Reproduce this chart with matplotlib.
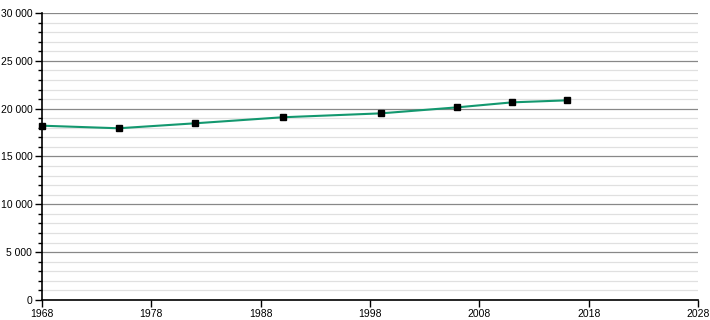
import matplotlib
matplotlib.use('Agg')
import matplotlib.pyplot as plt
from matplotlib.ticker import MultipleLocator, FuncFormatter

years = [1968, 1975, 1982, 1990, 1999, 2006, 2011, 2016]
population = [18220, 17950, 18470, 19100, 19510, 20140, 20660, 20870]
year_ticks = [1968, 1978, 1988, 1998, 2008, 2018, 2028]

plt.rcParams['font.family'] = ['Liberation Sans', 'DejaVu Sans']

fig = plt.figure(figsize=(7.1, 3.2), dpi=100)
ax = fig.add_axes([42/710, 20/320, 656/710, 287/320])

ax.set_xlim(1968, 2028)
ax.set_ylim(0, 30000)

ax.yaxis.set_major_locator(MultipleLocator(5000))
ax.yaxis.set_minor_locator(MultipleLocator(1000))
ax.set_xticks(year_ticks)
ax.set_xticklabels([str(y) for y in year_ticks])
ax.yaxis.set_major_formatter(FuncFormatter(lambda v, p: f'{int(v):,}'.replace(',', ' ')))

ax.grid(which='major', axis='y', color='#888888', lw=0.9)
ax.grid(which='minor', axis='y', color='#e0e0e0', lw=0.9)
ax.set_axisbelow(True)

for s in ['top', 'right']:
    ax.spines[s].set_visible(False)
ax.spines['left'].set_linewidth(1.2)
ax.spines['bottom'].set_linewidth(1.2)

ax.tick_params(axis='both', which='major', length=5, width=1, labelsize=7.5, pad=2)
ax.tick_params(axis='y', which='minor', length=3, width=1)
ax.tick_params(axis='x', pad=1.5)

ax.plot(years, population, color='#13986f', lw=1.5, zorder=3)
ax.plot(years, population, 's', color='black', ms=3.8, zorder=4, clip_on=False)

fig.savefig('out.png', dpi=100)
